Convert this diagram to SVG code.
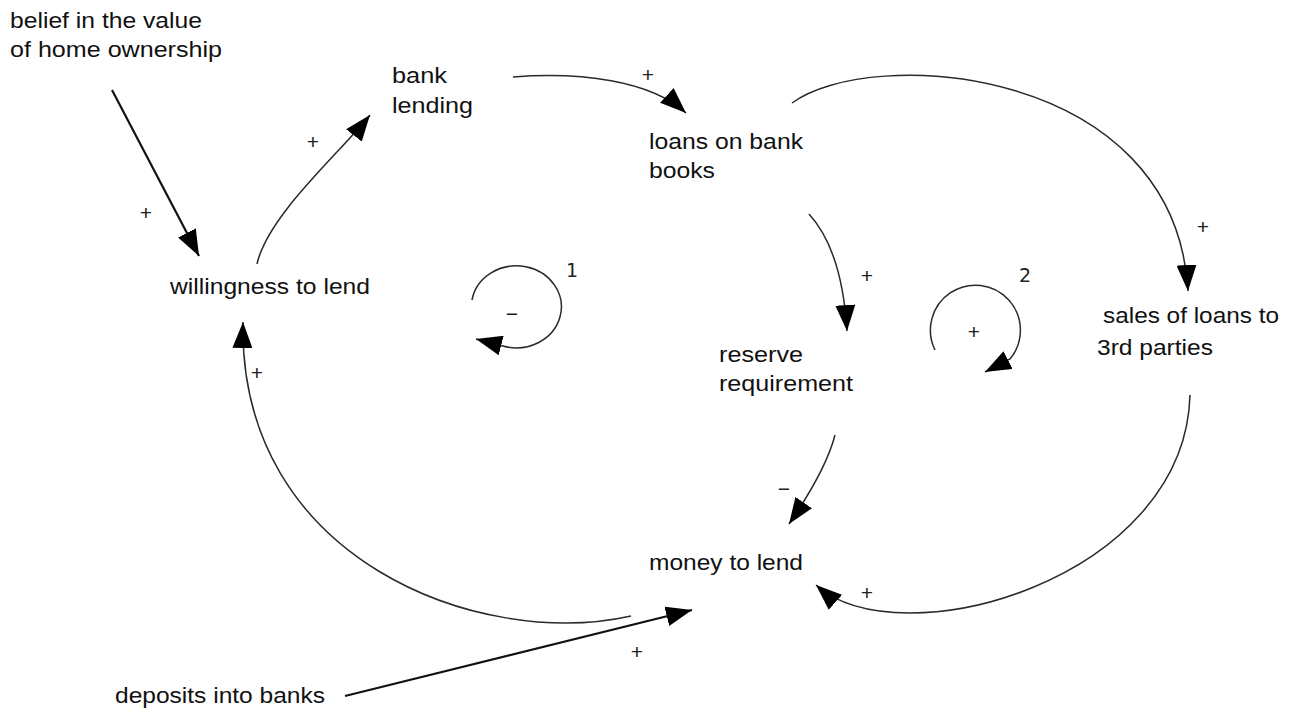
<svg xmlns="http://www.w3.org/2000/svg" width="1295" height="710" viewBox="0 0 1295 710">
<style>
.lbl{font-family:"Liberation Sans",Arial,sans-serif;font-size:22px;fill:#111}
.pol{font-family:"Liberation Sans",Arial,sans-serif;font-size:21px;fill:#222;text-anchor:middle}
.num{font-family:"DejaVu Sans",sans-serif;font-size:19px;fill:#222;text-anchor:middle}
.c{fill:none;stroke:#2a2a2a;stroke-width:1.5;marker-end:url(#ah)}
.t{fill:none;stroke:#111;stroke-width:2.2;marker-end:url(#ah)}
</style>
<defs>
<marker id="ah" viewBox="0 0 26 20" refX="26" refY="10" markerWidth="26" markerHeight="20" markerUnits="userSpaceOnUse" orient="auto">
<path d="M0,0 L26,10 L0,20 z" fill="#000"/>
</marker>
</defs>
<rect width="1295" height="710" fill="#fff"/>

<g id="connectors">
<path class="t" d="M112,90 L199,256"/>
<path class="c" d="M257,264 C268,215 340,153 370,115"/>
<path class="c" d="M513,77 C580,72 650,80 686,113"/>
<path class="c" d="M792,103 C870,45 1175,65 1188,291"/>
<path class="c" d="M809,214 Q842,250 847,331"/>
<path class="c" d="M835,435 Q826,470 789,524"/>
<path class="c" d="M1190,395 C1185,580 900,660 816,585"/>
<path class="c" d="M631,616 C480,650 238,560 243,322"/>
<path class="t" d="M345,696 L692,610"/>
</g>

<g id="polarities">
<text class="pol" x="146" y="220">+</text>
<text class="pol" x="313" y="149">+</text>
<text class="pol" x="648" y="82">+</text>
<text class="pol" x="1203" y="234">+</text>
<text class="pol" x="867" y="283">+</text>
<text class="pol" x="784" y="496">−</text>
<text class="pol" x="867" y="600">+</text>
<text class="pol" x="257" y="380">+</text>
<text class="pol" x="637" y="659">+</text>
</g>

<g id="loop1">
<path class="c" d="M472,300 A45,41 0 1 1 503,346 L476,339"/>
<text class="pol" x="512" y="321">−</text>
<text class="num" x="572" y="277">1</text>
</g>

<g id="loop2">
<path class="c" d="M935,350 A45,45 0 1 1 1010,359 L985,372"/>
<text class="pol" x="974" y="339">+</text>
<text class="num" x="1025" y="282">2</text>
</g>

<g id="belief">
<text class="lbl" x="10" y="28" textLength="192" lengthAdjust="spacingAndGlyphs">belief in the value</text>
<text class="lbl" x="10" y="57" textLength="212" lengthAdjust="spacingAndGlyphs">of home ownership</text>
</g>
<g id="bank-lending">
<text class="lbl" x="392" y="83" textLength="55" lengthAdjust="spacingAndGlyphs">bank</text>
<text class="lbl" x="392" y="113" textLength="81" lengthAdjust="spacingAndGlyphs">lending</text>
</g>
<g id="willingness">
<text class="lbl" x="170" y="294" textLength="200" lengthAdjust="spacingAndGlyphs">willingness to lend</text>
</g>
<g id="loans-on-books">
<text class="lbl" x="649" y="149" textLength="154" lengthAdjust="spacingAndGlyphs">loans on bank</text>
<text class="lbl" x="649" y="178" textLength="66" lengthAdjust="spacingAndGlyphs">books</text>
</g>
<g id="reserve">
<text class="lbl" x="719" y="362" textLength="84" lengthAdjust="spacingAndGlyphs">reserve</text>
<text class="lbl" x="719" y="391" textLength="134" lengthAdjust="spacingAndGlyphs">requirement</text>
</g>
<g id="sales">
<text class="lbl" x="1103" y="323" textLength="176" lengthAdjust="spacingAndGlyphs">sales of loans to</text>
<text class="lbl" x="1097" y="355" textLength="116" lengthAdjust="spacingAndGlyphs">3rd parties</text>
</g>
<g id="money">
<text class="lbl" x="649" y="570" textLength="154" lengthAdjust="spacingAndGlyphs">money to lend</text>
</g>
<g id="deposits">
<text class="lbl" x="115" y="703" textLength="210" lengthAdjust="spacingAndGlyphs">deposits into banks</text>
</g>
</svg>
